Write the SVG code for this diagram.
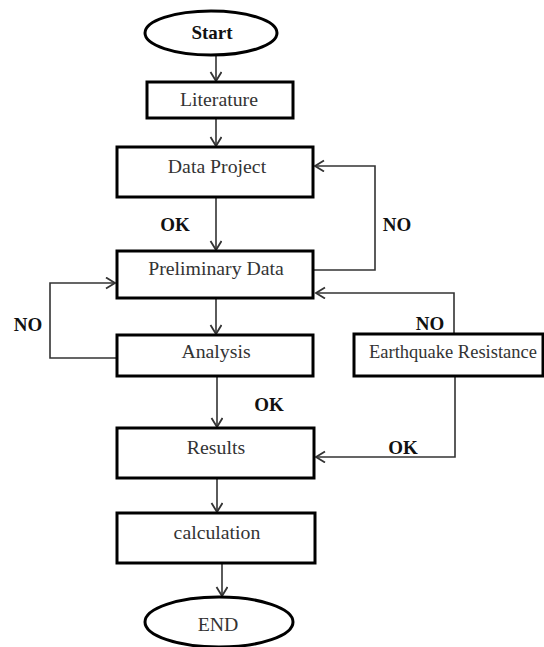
<svg xmlns="http://www.w3.org/2000/svg" width="544" height="647" viewBox="0 0 544 647">
<style>
.box{fill:#fff;stroke:#000;stroke-width:3}
.term{fill:#fff;stroke:#000;stroke-width:3}
.t{font-family:"Liberation Serif","Times New Roman",serif;font-size:19.8px;fill:#333;text-anchor:middle}
.b{font-family:"Liberation Serif","Times New Roman",serif;font-size:19px;font-weight:bold;fill:#111;text-anchor:middle}
.c{fill:none;stroke:#333;stroke-width:1.6}
</style>
<defs>
<marker id="ah" markerUnits="userSpaceOnUse" markerWidth="14" markerHeight="14" refX="10" refY="6" orient="auto">
<path d="M1,0.5 L10,6 L1,11.5" fill="none" stroke="#333" stroke-width="1.8"/>
</marker>
</defs>
<g id="connectors">
<line class="c" x1="216" y1="55" x2="216" y2="81" marker-end="url(#ah)"/>
<line class="c" x1="216" y1="118" x2="216" y2="146" marker-end="url(#ah)"/>
<line class="c" x1="216" y1="197" x2="216" y2="250" marker-end="url(#ah)"/>
<line class="c" x1="216" y1="298" x2="216" y2="334" marker-end="url(#ah)"/>
<line class="c" x1="217" y1="376" x2="217" y2="427" marker-end="url(#ah)"/>
<line class="c" x1="217" y1="478" x2="217" y2="512" marker-end="url(#ah)"/>
<line class="c" x1="222" y1="563" x2="222" y2="596" marker-end="url(#ah)"/>
<polyline class="c" points="313,270 375,270 375,166 315,166" marker-end="url(#ah)"/>
<polyline class="c" points="117,358 50,358 50,283 115,283" marker-end="url(#ah)"/>
<polyline class="c" points="454,334 454,293 316,293" marker-end="url(#ah)"/>
<polyline class="c" points="455,376 455,457 316,457" marker-end="url(#ah)"/>
</g>
<g id="start"><ellipse class="term" cx="211" cy="33" rx="66" ry="22"/><text class="b" x="212" y="39">Start</text></g>
<g id="literature"><rect class="box" x="147" y="82" width="146" height="36"/><text class="t" x="219" y="106">Literature</text></g>
<g id="data-project"><rect class="box" x="117" y="147" width="196" height="50"/><text class="t" x="217" y="173">Data Project</text></g>
<g id="preliminary-data"><rect class="box" x="117" y="251" width="196" height="47"/><text class="t" x="216" y="275">Preliminary Data</text></g>
<g id="analysis"><rect class="box" x="117" y="335" width="196" height="41"/><text class="t" x="216" y="358">Analysis</text></g>
<g id="earthquake-resistance"><rect class="box" x="354" y="334" width="189" height="42"/><text class="t" x="453" y="358" style="font-size:18.5px">Earthquake Resistance</text></g>
<g id="results"><rect class="box" x="117" y="428" width="197" height="50"/><text class="t" x="216" y="454">Results</text></g>
<g id="calculation"><rect class="box" x="117" y="513" width="198" height="50"/><text class="t" x="217" y="539">calculation</text></g>
<g id="end"><ellipse class="term" cx="219" cy="622" rx="74" ry="25"/><text class="t" x="218" y="631">END</text></g>
<g id="labels">
<text class="b" x="175" y="231">OK</text>
<text class="b" x="397" y="231">NO</text>
<text class="b" x="28" y="331">NO</text>
<text class="b" x="430" y="330">NO</text>
<text class="b" x="269" y="411">OK</text>
<text class="b" x="403" y="454">OK</text>
</g>
</svg>
